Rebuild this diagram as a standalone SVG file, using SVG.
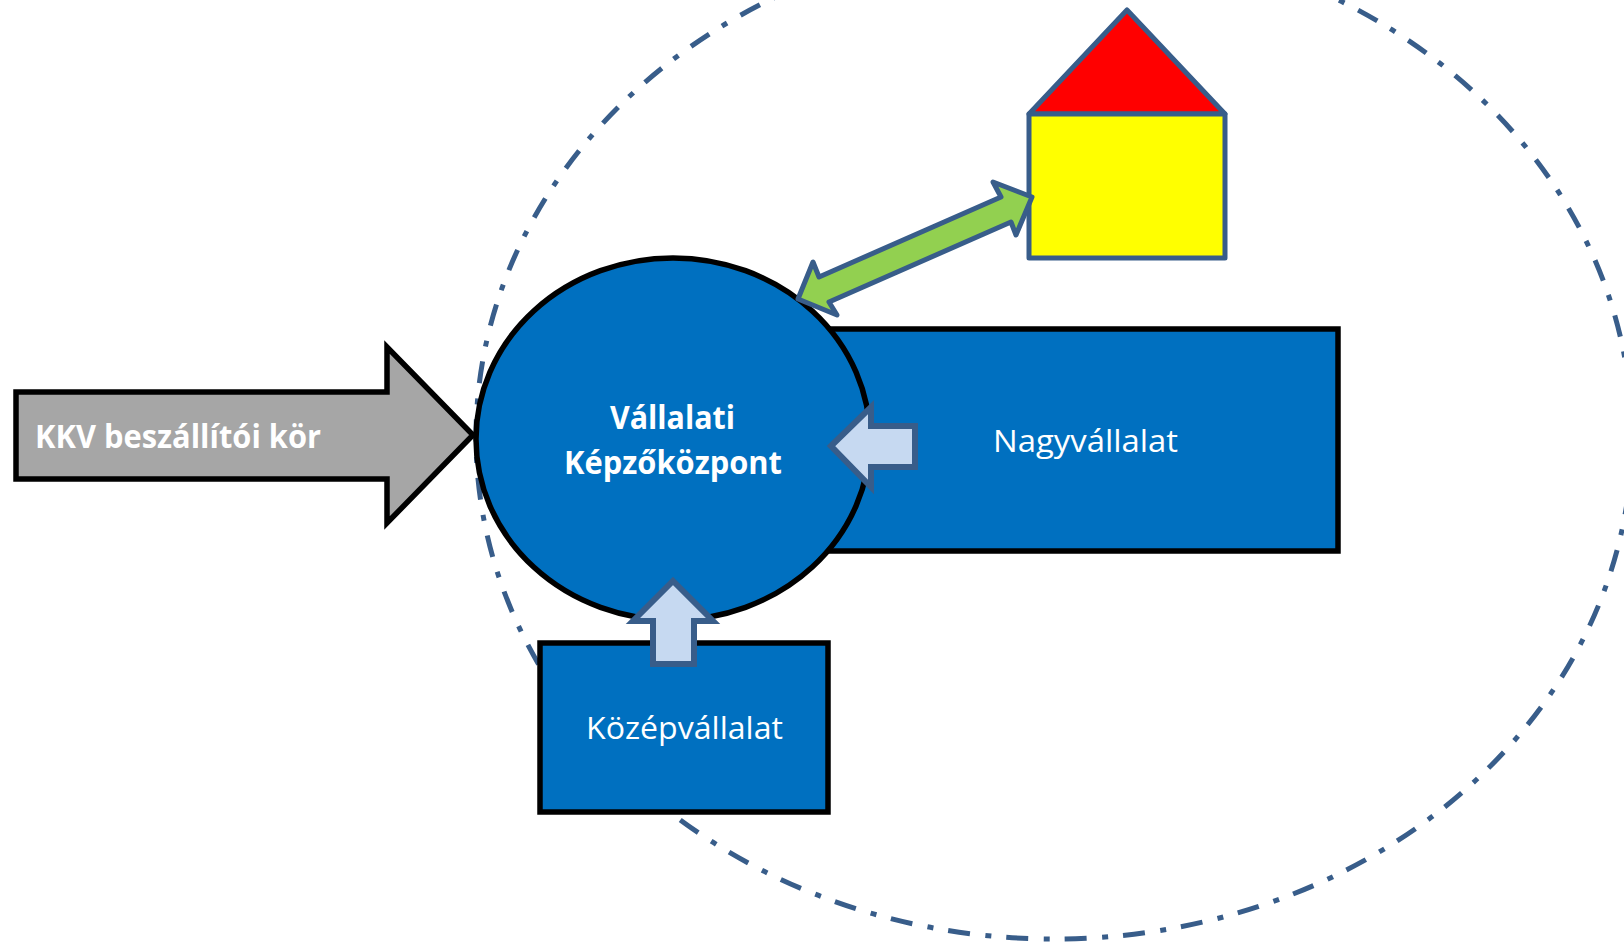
<svg xmlns="http://www.w3.org/2000/svg" width="1624" height="942" viewBox="0 0 1624 942">
<style>
.k{stroke:#000;stroke-width:5.5;stroke-linejoin:miter}
.b{stroke:#385d8a;stroke-width:5;stroke-linejoin:round}
.m{stroke:#385d8a;stroke-width:6;stroke-linejoin:miter}
text{font-family:"Open Sans","Noto Sans",sans-serif;font-size:31px;fill:#fff}
.h{font-weight:700;font-size:32px}
</style>
<rect width="1624" height="942" fill="#fff"/>
<g id="boundary"><ellipse cx="1054" cy="437" rx="578" ry="502" fill="none" stroke="#385d8a" stroke-width="5" stroke-dasharray="22 15 6 15.5" stroke-dashoffset="2.5"/></g>
<g id="nagyvallalat"><rect class="k" x="790" y="329" width="548" height="222" fill="#0070c0"/><text x="993" y="452" textLength="185" lengthAdjust="spacingAndGlyphs">Nagyvállalat</text></g>
<g id="kozepvallalat"><rect class="k" x="540" y="643" width="288" height="169" fill="#0070c0"/><text x="586" y="739" textLength="197" lengthAdjust="spacingAndGlyphs">Középvállalat</text></g>
<g id="kepzokozpont"><ellipse class="k" cx="673" cy="439" rx="197" ry="181" fill="#0070c0"/><text class="h" x="610" y="429" textLength="125" lengthAdjust="spacingAndGlyphs">Vállalati</text><text class="h" x="564" y="474" textLength="218" lengthAdjust="spacingAndGlyphs">Képzőközpont</text></g>
<g id="kkv"><path class="k" d="M16 392H387V347L473 435L387 523V479H16Z" fill="#a6a6a6"/><text class="h" x="35" y="448" textLength="286" lengthAdjust="spacingAndGlyphs">KKV beszállítói kör</text></g>
<g id="house"><path class="b" d="M1029 114L1127 10L1225 114Z" fill="#f00"/><rect class="b" x="1029" y="114" width="196" height="144" fill="#ff0"/></g>
<g id="connectors">
<path class="b" d="M1032 197L993 182L1001 197L819 277L813 262L798 299L837 315L829 302L1011 222L1016 235Z" fill="#92d050"/>
<path class="m" d="M831 446L871 407V426H915V467H871V487Z" fill="#c6d9f1"/>
<path class="m" d="M673 581L713 621H694V664H653V621H633Z" fill="#c6d9f1"/>
</g>
</svg>
